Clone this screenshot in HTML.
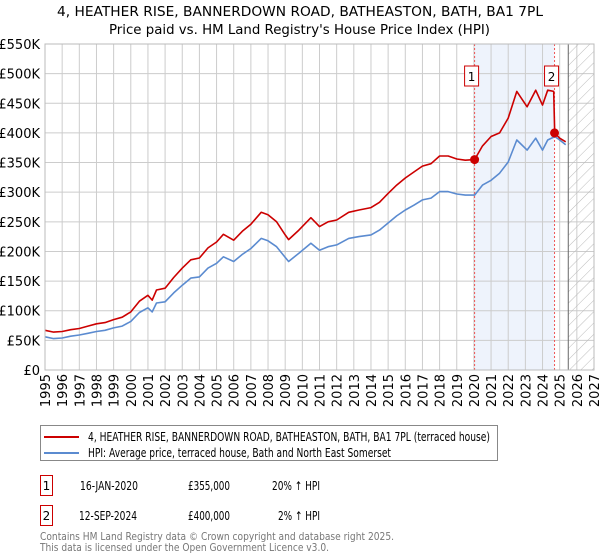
<!DOCTYPE html>
<html><head><meta charset="utf-8"><style>
body{margin:0;background:#fff;width:600px;height:560px;overflow:hidden;font-family:"DejaVu Sans","Liberation Sans",sans-serif}
svg text{font-family:"DejaVu Sans","Liberation Sans",sans-serif}
</style></head><body>
<svg id="c" width="600" height="560" viewBox="0 0 600 560" style="position:absolute;left:0;top:0">
<defs><pattern id="hatch" patternUnits="userSpaceOnUse" width="8" height="8" patternTransform="rotate(45)"><line x1="0" y1="0" x2="0" y2="8" stroke="#bbb" stroke-width="1"/></pattern></defs>
<text x="57" y="16" font-size="13" textLength="486" lengthAdjust="spacingAndGlyphs">4, HEATHER RISE, BANNERDOWN ROAD, BATHEASTON, BATH, BA1 7PL</text>
<text x="109" y="34" font-size="13" textLength="381" lengthAdjust="spacingAndGlyphs">Price paid vs. HM Land Registry's House Price Index (HPI)</text>
<g id="grid"></g>
<g id="marks"></g>
<g id="axes"></g>
<g>
 <rect x="40.5" y="425.5" width="457" height="35" fill="#fff" stroke="#888"/>
 <g>
  <line x1="44" x2="79" y1="437" y2="437" stroke="#cc0000" stroke-width="2"/>
  <text x="88" y="441" font-size="12" textLength="402" lengthAdjust="spacingAndGlyphs">4, HEATHER RISE, BANNERDOWN ROAD, BATHEASTON, BATH, BA1 7PL (terraced house)</text>
 </g>
 <g>
  <line x1="44" x2="79" y1="453" y2="453" stroke="#5b8bd0" stroke-width="2"/>
  <text x="88" y="457" font-size="12" textLength="303" lengthAdjust="spacingAndGlyphs">HPI: Average price, terraced house, Bath and North East Somerset</text>
 </g>
</g>
<g>
 <rect x="40.5" y="475.5" width="12" height="20" fill="#fff" stroke="#cc0000"/>
 <text x="46.5" y="490" font-size="12" text-anchor="middle">1</text>
 <text x="80" y="490" font-size="12" textLength="58" lengthAdjust="spacingAndGlyphs">16-JAN-2020</text>
 <text x="188" y="490" font-size="12" textLength="42" lengthAdjust="spacingAndGlyphs">£355,000</text>
 <text x="272" y="490" font-size="12" textLength="48" lengthAdjust="spacingAndGlyphs">20% ↑ HPI</text>
</g>
<g>
 <rect x="40.5" y="505.5" width="12" height="20" fill="#fff" stroke="#cc0000"/>
 <text x="46.5" y="520" font-size="12" text-anchor="middle">2</text>
 <text x="79" y="520" font-size="12" textLength="58" lengthAdjust="spacingAndGlyphs">12-SEP-2024</text>
 <text x="188" y="520" font-size="12" textLength="42" lengthAdjust="spacingAndGlyphs">£400,000</text>
 <text x="278" y="520" font-size="12" textLength="42" lengthAdjust="spacingAndGlyphs">2% ↑ HPI</text>
</g>
<g fill="#777">
 <text x="40" y="540" font-size="11" textLength="354" lengthAdjust="spacingAndGlyphs">Contains HM Land Registry data © Crown copyright and database right 2025.</text>
 <text x="40" y="551" font-size="11" textLength="289" lengthAdjust="spacingAndGlyphs">This data is licensed under the Open Government Licence v3.0.</text>
</g>
</svg>
<script>
const years=[1995,1995.5,1996,1996.5,1997,1997.5,1998,1998.5,1999,1999.5,2000,2000.5,2001,2001.25,2001.5,2002,2002.5,2003,2003.5,2004,2004.5,2005,2005.4,2006,2006.5,2007,2007.6,2008,2008.5,2009,2009.2,2009.8,2010.5,2011,2011.5,2012,2012.7,2013.3,2014,2014.5,2015,2015.5,2016,2016.5,2017,2017.5,2018,2018.5,2019,2019.5,2020.04,2020.5,2021,2021.5,2022,2022.5,2023.1,2023.6,2024,2024.3,2024.65,2024.71,2025,2025.35];
const hpi=[56,53,54,57,59,62,65,67,71,74,82,97,105,98,113,115,130,143,155,157,172,180,191,183,195,205,222,218,208,190,183,197,214,202,208,211,222,225,228,236,248,260,270,278,287,290,301,301,297,295,295,312,320,332,351,388,371,391,371,388,393,394,388,380];
const price=[67,64,65,68,70,74,78,80,85,89,98,116,126,118,135,138,156,172,186,189,206,216,229,219,234,246,266,262,250,228,220,236,257,242,250,253,266,270,274,283,298,312,324,334,344,348,361,361,356,354,355,378,394,400,425,470,444,472,447,472,470,400,391,385];
const saleYears=[2020.04,2024.7];
const saleValues=[355,400];
const saleLabels=["1","2"];
const yTicks=[0,50,100,150,200,250,300,350,400,450,500,550];
const xTicks=[1995,1996,1997,1998,1999,2000,2001,2002,2003,2004,2005,2006,2007,2008,2009,2010,2011,2012,2013,2014,2015,2016,2017,2018,2019,2020,2021,2022,2023,2024,2025,2026,2027];
const X0=45,X1=594,Y0=370,Y1=44;
const xs=y=>X0+(y-1995)/(2027-1995)*(X1-X0);
const ys=v=>Y0-v/550*(Y0-Y1);
const NS="http://www.w3.org/2000/svg";
function mk(tag,attrs,parent){const e=document.createElementNS(NS,tag);for(const k in attrs)e.setAttribute(k,attrs[k]);parent.appendChild(e);return e;}
const grid=document.getElementById('grid'),marks=document.getElementById('marks'),axes=document.getElementById('axes');
let r=mk('rect',{x:xs(saleYears[0]),y:Y1,width:xs(saleYears[1])-xs(saleYears[0]),height:Y0-Y1,fill:'#eef3fc'},grid);


yTicks.forEach(t=>{
 let l=mk('line',{x1:X0,x2:X1,y1:ys(t),y2:ys(t),stroke:'#cccccc','stroke-width':1},grid);
 
 
 let tx=mk('text',{x:40,y:ys(t)+5,'text-anchor':'end','font-size':13},axes);
 tx.textContent='£'+(t===0?'0':t+'K');
 
 
});
xTicks.forEach(t=>{
 let l=mk('line',{x1:xs(t),x2:xs(t),y1:Y1,y2:Y0,stroke:'#cccccc','stroke-width':1},grid);
 
 
 let tx=mk('text',{x:0,y:0,'text-anchor':'end','font-size':13,transform:`translate(${xs(t)+5},${Y0+4}) rotate(-90)`},axes);
 tx.textContent=t;
 
 
});
const hs=2025.5;
let h=mk('rect',{x:xs(hs),y:Y1,width:X1-xs(hs),height:Y0-Y1,fill:'url(#hatch)'},grid);


let hl=mk('line',{x1:xs(hs),x2:xs(hs),y1:Y1,y2:Y0,stroke:'#666','stroke-width':1},grid);


let fr=mk('rect',{x:X0,y:Y1,width:X1-X0,height:Y0-Y1,fill:'none',stroke:'#bbb'},axes);


saleYears.forEach(s=>{
 let v=mk('line',{x1:xs(s),x2:xs(s),y1:Y1,y2:Y0,stroke:'#ee5555','stroke-width':1,'stroke-dasharray':'2,2'},marks);
 
 
});
function path(vals,col,name){
 const d=vals.map((v,i)=>(i?'L':'M')+xs(years[i]).toFixed(1)+','+ys(v).toFixed(1)).join('');
 let p=mk('path',{d:d,fill:'none',stroke:col,'stroke-width':1.6,'stroke-linejoin':'round'},marks);
 
 
}
path(hpi,'#5b8bd0','hpi-line');
path(price,'#cc0000','price-line');
saleYears.forEach((s,i)=>{
 let c=mk('circle',{cx:xs(s),cy:ys(saleValues[i]),r:4.5,fill:'#cc0000'},marks);
 
 
 const bx=xs(s)-10;
 let b=mk('rect',{x:bx,y:66,width:14,height:20,fill:'#fff',stroke:'#cc0000'},marks);
 
 
 let t=mk('text',{x:bx+7,y:81,'text-anchor':'middle','font-size':12},marks);
 t.textContent=saleLabels[i];
 
 
});
</script>
</body></html>
